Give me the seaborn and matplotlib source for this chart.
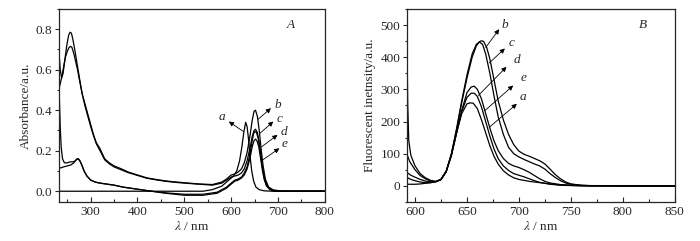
import numpy as np
import pandas as pd
import matplotlib
matplotlib.use("Agg")
import matplotlib.pyplot as plt
from matplotlib.ticker import MultipleLocator, FormatStrFormatter
import seaborn as sns

sns.set_theme(style="ticks")
plt.rcParams["font.family"] = ["Liberation Serif", "DejaVu Serif"]
plt.rcParams["mathtext.fontset"] = "stix"

# ---- Panel A: absorbance spectra ----
A_a_wl = [230, 300, 400, 500, 540, 560, 580, 595, 605, 612, 618, 623, 627, 631, 634, 637, 640, 644, 648, 653, 660, 670, 690, 800]
A_a = [0.0, 0.0, 0.0, 0.0, 0.0, 0.008, 0.025, 0.055, 0.075, 0.10, 0.15, 0.22, 0.29, 0.34, 0.32, 0.26, 0.18, 0.10, 0.05, 0.02, 0.008, 0.002, 0.0, 0.0]

A_b_wl = [230, 232, 235, 238, 241, 245, 249, 253, 256, 259, 262, 266, 271, 276, 282, 288, 294, 300, 306, 312, 320, 330, 340, 350, 366, 380, 400, 420, 440, 460, 480, 500, 530, 560, 580, 590, 600, 608, 615, 622, 628, 634, 640, 645, 649, 652, 656, 660, 664, 668, 673, 680, 690, 710, 740, 800]
A_b = [0.80, 0.70, 0.60, 0.56, 0.58, 0.65, 0.72, 0.77, 0.785, 0.78, 0.75, 0.70, 0.63, 0.56, 0.48, 0.43, 0.38, 0.33, 0.28, 0.24, 0.21, 0.16, 0.14, 0.125, 0.11, 0.095, 0.08, 0.066, 0.058, 0.051, 0.046, 0.042, 0.036, 0.033, 0.045, 0.06, 0.08, 0.085, 0.095, 0.11, 0.14, 0.19, 0.27, 0.35, 0.395, 0.40, 0.37, 0.30, 0.21, 0.13, 0.06, 0.02, 0.006, 0.0, 0.0, 0.0]

A_c_wl = [230, 234, 238, 242, 246, 250, 254, 257, 260, 264, 268, 272, 276, 282, 288, 294, 300, 306, 312, 320, 330, 340, 350, 366, 380, 400, 420, 440, 460, 480, 500, 530, 560, 580, 590, 600, 608, 615, 622, 628, 634, 640, 645, 649, 652, 656, 660, 664, 668, 673, 680, 690, 710, 800]
A_c = [0.49, 0.52, 0.56, 0.61, 0.66, 0.69, 0.71, 0.715, 0.71, 0.68, 0.64, 0.60, 0.55, 0.48, 0.42, 0.37, 0.32, 0.275, 0.235, 0.20, 0.155, 0.135, 0.12, 0.105, 0.092, 0.078, 0.064, 0.056, 0.049, 0.044, 0.04, 0.035, 0.03, 0.04, 0.055, 0.07, 0.075, 0.08, 0.09, 0.11, 0.15, 0.21, 0.27, 0.30, 0.306, 0.29, 0.24, 0.17, 0.10, 0.05, 0.018, 0.005, 0.0, 0.0]

A_d_wl = [230, 231, 233, 235, 237, 240, 244, 250, 256, 262, 267, 271, 274, 277, 281, 286, 292, 300, 310, 320, 335, 350, 370, 400, 430, 460, 500, 540, 570, 590, 600, 608, 615, 622, 628, 634, 640, 645, 648, 651, 654, 658, 662, 666, 670, 675, 682, 692, 710, 740, 800]
A_d = [0.80, 0.70, 0.48, 0.32, 0.22, 0.16, 0.14, 0.14, 0.145, 0.145, 0.15, 0.16, 0.16, 0.15, 0.13, 0.10, 0.075, 0.055, 0.045, 0.04, 0.035, 0.03, 0.02, 0.01, 0.0, -0.008, -0.015, -0.015, -0.005, 0.02, 0.04, 0.055, 0.06, 0.07, 0.09, 0.12, 0.18, 0.25, 0.285, 0.295, 0.29, 0.26, 0.20, 0.13, 0.07, 0.03, 0.01, 0.0, 0.0, 0.0, 0.0]

A_e_wl = [230, 236, 242, 250, 258, 264, 269, 273, 277, 281, 286, 292, 300, 310, 320, 335, 350, 370, 400, 430, 460, 500, 540, 570, 590, 600, 608, 615, 622, 628, 634, 640, 645, 649, 652, 655, 659, 663, 667, 671, 676, 683, 692, 710, 800]
A_e = [0.12, 0.115, 0.12, 0.125, 0.13, 0.14, 0.155, 0.16, 0.15, 0.13, 0.10, 0.075, 0.055, 0.045, 0.04, 0.035, 0.03, 0.02, 0.01, 0.0, -0.01, -0.02, -0.02, -0.01, 0.015, 0.035, 0.05, 0.055, 0.065, 0.08, 0.11, 0.16, 0.22, 0.25, 0.257, 0.25, 0.22, 0.16, 0.10, 0.055, 0.025, 0.008, 0.0, 0.0, 0.0]

# ---- Panel B: fluorescence spectra ----
B_b_wl = [590, 592, 593, 594, 596, 600, 605, 610, 615, 620, 625, 630, 635, 640, 645, 650, 655, 659, 662, 664, 666, 669, 672, 676, 680, 685, 690, 695, 700, 705, 710, 715, 720, 725, 730, 735, 740, 745, 750, 760, 770, 800, 850]
B_b = [700, 520, 250, 140, 95, 62, 38, 25, 17, 14, 20, 45, 100, 175, 260, 335, 400, 435, 448, 451, 449, 430, 395, 330, 265, 205, 160, 128, 108, 98, 92, 85, 78, 68, 52, 35, 22, 12, 6, 2, 0.5, 0, 0]

B_c_wl = [590, 592, 595, 600, 605, 610, 615, 620, 625, 630, 635, 640, 645, 650, 655, 659, 662, 665, 668, 672, 676, 680, 685, 690, 695, 700, 705, 710, 715, 720, 725, 730, 735, 740, 745, 750, 760, 770, 800, 850]
B_c = [120, 100, 75, 50, 32, 22, 15, 13, 19, 44, 98, 178, 265, 345, 410, 440, 447, 440, 410, 350, 280, 215, 160, 120, 100, 90, 82, 75, 68, 62, 52, 38, 26, 16, 9, 5, 1.5, 0.5, 0, 0]

B_d_wl = [590, 593, 596, 600, 605, 610, 615, 620, 625, 630, 635, 640, 645, 650, 654, 657, 660, 664, 668, 672, 676, 680, 685, 690, 695, 700, 705, 710, 715, 720, 725, 730, 740, 750, 770, 850]
B_d = [45, 40, 33, 27, 20, 15, 12, 13, 20, 45, 95, 165, 235, 290, 307, 310, 300, 270, 225, 180, 140, 110, 85, 70, 62, 57, 50, 42, 32, 22, 14, 9, 4, 1.5, 0, 0]

B_e_wl = [590, 593, 596, 600, 605, 610, 615, 620, 625, 630, 635, 640, 645, 650, 654, 657, 660, 664, 668, 672, 676, 680, 685, 690, 695, 700, 705, 710, 715, 720, 730, 740, 760, 850]
B_e = [28, 25, 20, 16, 12, 10, 10, 13, 20, 45, 95, 165, 232, 275, 288, 288, 278, 245, 200, 155, 115, 85, 62, 48, 38, 33, 28, 22, 16, 11, 5, 2, 0, 0]

B_a_wl = [590, 595, 600, 605, 610, 615, 620, 625, 630, 635, 640, 645, 650, 653, 656, 660, 664, 668, 672, 676, 680, 685, 690, 695, 700, 710, 720, 730, 740, 760, 850]
B_a = [5, 5, 5, 6, 8, 10, 13, 20, 45, 95, 165, 225, 255, 258, 257, 240, 205, 165, 125, 92, 68, 47, 34, 25, 20, 14, 10, 6, 3, 1, 0]

CURVES = ["a", "b", "c", "d", "e"]


def long_df(pairs):
    rows = []
    for name, (wl, val) in zip(CURVES, pairs):
        rows.append(pd.DataFrame({"wl": wl, "val": val, "curve": name}))
    return pd.concat(rows, ignore_index=True)


dfA = long_df([(A_a_wl, A_a), (A_b_wl, A_b), (A_c_wl, A_c), (A_d_wl, A_d), (A_e_wl, A_e)])
dfB = long_df([(B_a_wl, B_a), (B_b_wl, B_b), (B_c_wl, B_c), (B_d_wl, B_d), (B_e_wl, B_e)])

# label positions: (tail on curve, arrow head, text)
LAB_A = {"a": ((626, 0.295), (595, 0.344), (581, 0.366)),
         "b": ((658, 0.356), (685, 0.41), (699, 0.427)),
         "c": ((662, 0.287), (690, 0.344), (703, 0.357)),
         "d": ((665.5, 0.22), (699, 0.278), (712, 0.29)),
         "e": ((667.7, 0.155), (703, 0.212), (715, 0.234))}
LAB_B = {"b": ((668, 430), (681, 487), (686, 500)),
         "c": ((671.4, 382), (686.5, 427), (693, 443)),
         "d": ((661, 281), (688, 370), (698, 390)),
         "e": ((667.3, 234), (694.5, 312), (704, 336)),
         "a": ((671.4, 182), (698, 255), (704, 276))}

FS = 9.5

fig = plt.figure(figsize=(7.0, 2.41), dpi=100)
axA = fig.add_axes([0.084, 0.162, 0.380, 0.801])
axB = fig.add_axes([0.581, 0.162, 0.383, 0.801])

pal = {c: "black" for c in CURVES}
for ax, df in ((axA, dfA), (axB, dfB)):
    sns.lineplot(data=df, x="wl", y="val", hue="curve", palette=pal,
                 estimator=None, sort=False, legend=False, lw=0.9, ax=ax)

axA.set(xlim=(232, 800), ylim=(-0.053, 0.9), xlabel=r"$\lambda$ / nm", ylabel="Absorbance/a.u.")
axA.xaxis.set_major_locator(MultipleLocator(100))
axA.xaxis.set_minor_locator(MultipleLocator(50))
axA.yaxis.set_major_locator(MultipleLocator(0.2))
axA.yaxis.set_minor_locator(MultipleLocator(0.1))
axA.yaxis.set_major_formatter(FormatStrFormatter("%.1f"))

axB.set(xlim=(592, 850), ylim=(-50, 550), xlabel=r"$\lambda$ / nm", ylabel="Fluorescent inetnsity/a.u.")
axB.xaxis.set_major_locator(MultipleLocator(50))
axB.xaxis.set_minor_locator(MultipleLocator(25))
axB.yaxis.set_major_locator(MultipleLocator(100))
axB.yaxis.set_minor_locator(MultipleLocator(50))

for ax, labs in ((axA, LAB_A), (axB, LAB_B)):
    for sp in ax.spines.values():
        sp.set_linewidth(0.9)
    ax.tick_params(axis="x", which="both", direction="in", labelsize=FS, pad=3, width=0.8)
    ax.tick_params(axis="x", which="major", length=3.5)
    ax.tick_params(axis="x", which="minor", length=2)
    ax.tick_params(axis="y", which="both", direction="out", labelsize=FS, pad=1.5, width=0.8)
    ax.tick_params(axis="y", which="major", length=3)
    ax.tick_params(axis="y", which="minor", length=1.5)
    ax.xaxis.label.set_size(FS)
    ax.yaxis.label.set_size(FS)
    ax.xaxis.labelpad = 1.5
    ax.yaxis.labelpad = 3
    for name, (tail, head, txt) in labs.items():
        ax.annotate("", xy=head, xytext=tail,
                    arrowprops=dict(arrowstyle="-|>", lw=0.6, color="black",
                                    mutation_scale=7, shrinkA=0, shrinkB=0))
        ax.text(txt[0], txt[1], name, style="italic", fontsize=FS,
                ha="center", va="center")

axA.text(728, 0.82, "A", style="italic", fontsize=FS, ha="center", va="center")
axB.text(819.5, 500, "B", style="italic", fontsize=FS, ha="center", va="center")

fig.savefig("out.png", dpi=100)
